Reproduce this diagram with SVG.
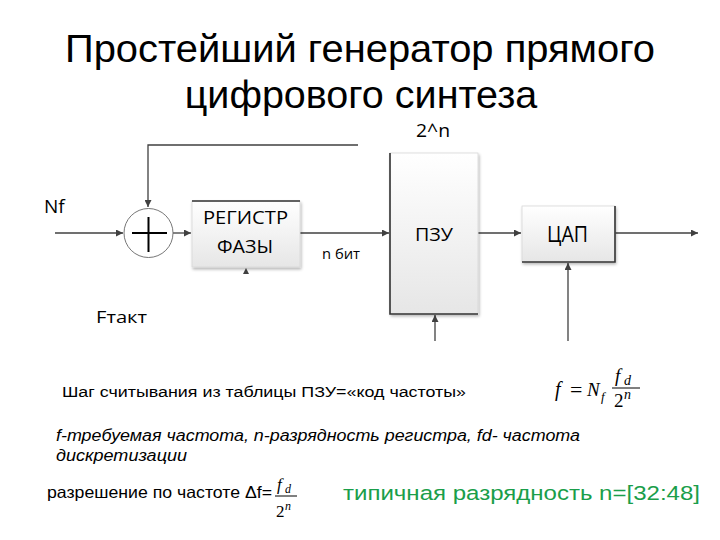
<svg xmlns="http://www.w3.org/2000/svg" width="720" height="540" viewBox="0 0 720 540">
<defs>
<linearGradient id="boxg" x1="0" y1="0" x2="0" y2="1">
<stop offset="0" stop-color="#ffffff"/>
<stop offset="1" stop-color="#e6e6e6"/>
</linearGradient>
<marker id="ah" viewBox="0 0 10 10" refX="10" refY="5" markerWidth="7" markerHeight="7" markerUnits="userSpaceOnUse" orient="auto">
<path d="M0,0 L10,5 L0,10 z" fill="#404040"/>
</marker>
<filter id="sh" x="-10%" y="-10%" width="130%" height="130%">
<feGaussianBlur in="SourceAlpha" stdDeviation="1.5"/>
<feOffset dx="1" dy="1.5" result="o"/>
<feComponentTransfer><feFuncA type="linear" slope="0.3"/></feComponentTransfer>
<feMerge><feMergeNode/><feMergeNode in="SourceGraphic"/></feMerge>
</filter>
</defs>
<style>
.t{font-family:"Liberation Sans",Arial,sans-serif;fill:#000}
.i{font-family:"Liberation Sans",Arial,sans-serif;font-style:italic;fill:#000}
.b{font-family:"Open Sans","DejaVu Sans",sans-serif;fill:#000}
.m{font-family:"Liberation Serif","Times New Roman",serif;font-style:italic;fill:#000}
.r{font-family:"Liberation Serif","Times New Roman",serif;fill:#000}
.ln{stroke:#404040;stroke-width:1.3;fill:none}
.edge{stroke:#333;stroke-width:1.6;fill:none}
.box{fill:url(#boxg);stroke:#d8d8d8;stroke-width:0.8;filter:url(#sh)}
</style>
<rect width="720" height="540" fill="#fff"/>
<g id="title">
<text class="t" x="65" y="62" font-size="39.5" textLength="590" lengthAdjust="spacingAndGlyphs">Простейший генератор прямого</text>
<text class="t" x="361" y="108" font-size="39.5" text-anchor="middle">цифрового синтеза</text>
</g>
<g id="connectors">
<path class="ln" d="M358,145 H148 V207" marker-end="url(#ah)"/>
<path class="ln" d="M55,233 H123" marker-end="url(#ah)"/>
<path class="ln" d="M173,233 H191" marker-end="url(#ah)"/>
<path class="ln" d="M300,233 H389" marker-end="url(#ah)"/>
<path class="ln" d="M478,233 H521" marker-end="url(#ah)"/>
<path class="ln" d="M615,233 H698" marker-end="url(#ah)"/>
<path class="ln" d="M435,341 V315" marker-end="url(#ah)"/>
<path class="ln" d="M568,341 V263" marker-end="url(#ah)"/>
<path d="M243,274 L246,268 L249,274 z" fill="#404040"/>
</g>
<g id="adder">
<circle cx="148.5" cy="233" r="24.5" fill="#fff" stroke="#666" stroke-width="0.9"/>
<path d="M132,233 H167 M148.5,217 V252" stroke="#000" stroke-width="2"/>
</g>
<g id="register">
<rect class="box" x="192" y="201" width="108" height="66"/>
<line class="edge" x1="192" y1="201" x2="300" y2="201"/>
<text class="b" x="203" y="224" font-size="19" textLength="85" lengthAdjust="spacingAndGlyphs">РЕГИСТР</text>
<text class="b" x="217" y="253" font-size="19" textLength="56" lengthAdjust="spacingAndGlyphs">ФАЗЫ</text>
</g>
<g id="rom">
<rect class="box" x="390" y="153" width="88" height="161"/>
<path class="edge" d="M390,153 V314 H478"/>
<text class="b" x="415" y="241" font-size="18.5" textLength="38" lengthAdjust="spacingAndGlyphs">ПЗУ</text>
</g>
<g id="dac">
<rect class="box" x="522" y="206" width="93" height="56"/>
<path class="edge" d="M615,206 V262 H522"/>
<text class="b" x="547" y="242" font-size="21" textLength="41" lengthAdjust="spacingAndGlyphs">ЦАП</text>
</g>
<g id="labels">
<text class="b" x="44" y="213" font-size="19">Nf</text>
<text class="b" x="96" y="323" font-size="17" textLength="51" lengthAdjust="spacingAndGlyphs">Fтакт</text>
<text class="b" x="322" y="259" font-size="14" textLength="38" lengthAdjust="spacingAndGlyphs">n бит</text>
<text class="b" x="416" y="137" font-size="18" textLength="34" lengthAdjust="spacingAndGlyphs">2^n</text>
</g>
<g id="notes">
<text class="t" x="62" y="397" font-size="15.5" textLength="404" lengthAdjust="spacingAndGlyphs">Шаг считывания из таблицы ПЗУ=«код частоты»</text>
<text class="i" x="56" y="441" font-size="16" textLength="524" lengthAdjust="spacingAndGlyphs">f-требуемая частота, n-разрядность регистра, fd- частота</text>
<text class="i" x="56" y="461" font-size="16" textLength="131" lengthAdjust="spacingAndGlyphs">дискретизации</text>
<text class="t" x="47" y="498" font-size="16.5" textLength="225" lengthAdjust="spacingAndGlyphs">разрешение по частоте Δf=</text>
<text class="t" x="343" y="500" font-size="20.5" style="fill:#1a9e4a" textLength="357" lengthAdjust="spacingAndGlyphs">типичная разрядность n=[32:48]</text>
</g>
<g id="formula1">
<text class="m" x="555" y="396" font-size="20">f</text>
<text class="r" x="570" y="397" font-size="22">=</text>
<text class="m" x="587" y="396" font-size="19">N</text>
<text class="m" x="601" y="401" font-size="13">f</text>
<text class="m" x="615" y="382" font-size="19">f</text>
<text class="m" x="624" y="385" font-size="14">d</text>
<line x1="612" y1="388" x2="640" y2="388" stroke="#000" stroke-width="1"/>
<text class="r" x="614" y="407" font-size="19">2</text>
<text class="m" x="624" y="399" font-size="14">n</text>
</g>
<g id="formula2">
<text class="m" x="277" y="490" font-size="17">f</text>
<text class="m" x="285" y="493" font-size="12">d</text>
<line x1="275" y1="496" x2="297" y2="496" stroke="#000" stroke-width="1"/>
<text class="r" x="276" y="517" font-size="17">2</text>
<text class="m" x="285" y="510" font-size="12">n</text>
</g>
</svg>
